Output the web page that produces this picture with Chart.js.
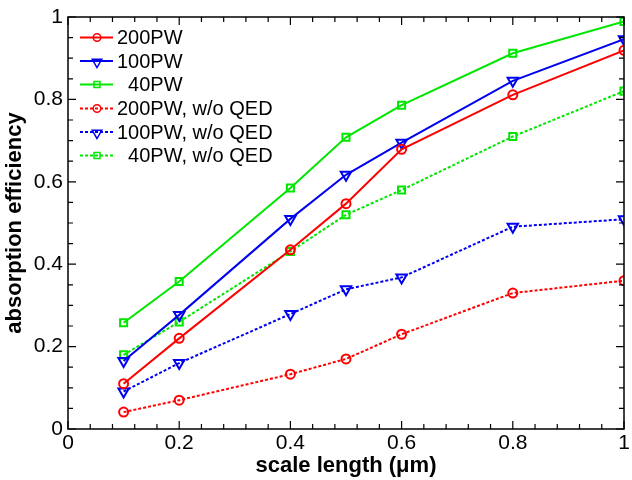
<!DOCTYPE html>
<html>
<head>
<meta charset="utf-8">
<script src="https://cdn.jsdelivr.net/npm/chart.js@4/dist/chart.umd.min.js"></script>
<style>
  html, body { margin: 0; padding: 0; background: #fff; }
  #wrap { width: 632px; height: 480px; }
</style>
</head>
<body>
<div id="wrap"><canvas id="absChart" width="632" height="480"></canvas></div>
<script>
// scale length (um)
let scaleLength = [0.1, 0.2, 0.4, 0.5, 0.6, 0.8, 1.0]

let pw200 = [0.11, 0.22, 0.435, 0.547, 0.679, 0.811, 0.919]
let pw100 = [0.165, 0.277, 0.51, 0.617, 0.695, 0.845, 0.946]
let pw40 = [0.258, 0.358, 0.585, 0.708, 0.786, 0.912, 0.989]
let pw200NoQed = [0.041, 0.07, 0.133, 0.17, 0.23, 0.33, 0.36]
let pw100NoQed = [0.091, 0.16, 0.279, 0.339, 0.368, 0.491, 0.509]
let pw40NoQed = [0.18, 0.26, 0.431, 0.52, 0.58, 0.71, 0.82]

let seriesNames = ['200PW', '100PW', '  40PW', '200PW, w/o QED', '100PW, w/o QED', '  40PW, w/o QED']

let red = '#ff0000', blue = '#0000f0', green = '#00e600'
let font = "'Liberation Sans', Arial, sans-serif"

function pts(vals) {
  return scaleLength.map((x, i) => ({ x: x, y: vals[i] }))
}

function series(name, vals, color, style, dashed) {
  let r = style === 'circle' ? 4.5 : (style === 'rect' ? 5 : 6)
  return {
    label: name,
    data: pts(vals),
    borderColor: color,
    borderWidth: 2,
    borderDash: dashed ? [3, 2] : [],
    pointStyle: style,
    pointRotation: style === 'triangle' ? 180 : 0,
    pointRadius: r,
    pointHoverRadius: r,
    pointBorderWidth: 2,
    pointBorderColor: color,
    pointBackgroundColor: 'rgba(0,0,0,0)',
    fill: false,
    tension: 0
  }
}

let tickText = v => String(+v.toFixed(2))

// frame + inward ticks on all four sides, plus the legend
let framePlugin = {
  id: 'frame',
  afterDraw(chart) {
    let ctx = chart.ctx
    let a = chart.chartArea
    let xs = chart.scales.x, ys = chart.scales.y
    ctx.save()
    ctx.strokeStyle = '#000'
    ctx.lineWidth = 1.5
    ctx.setLineDash([])
    ctx.strokeRect(a.left, a.top, a.right - a.left, a.bottom - a.top)
    ctx.lineWidth = 1.2
    ctx.beginPath()
    for (let i = 0; i <= 25; i++) {
      let v = i * 0.04
      let px = xs.getPixelForValue(v)
      let len = (i % 5 === 0) ? 8 : 5
      ctx.moveTo(px, a.bottom); ctx.lineTo(px, a.bottom - len)
      ctx.moveTo(px, a.top); ctx.lineTo(px, a.top + len)
    }
    for (let i = 0; i <= 20; i++) {
      let v = i * 0.05
      let py = ys.getPixelForValue(v)
      let len = (i % 4 === 0) ? 8 : 5
      ctx.moveTo(a.left, py); ctx.lineTo(a.left + len, py)
      ctx.moveTo(a.right, py); ctx.lineTo(a.right - len, py)
    }
    ctx.stroke()

    // legend
    let rowY = [37.5, 61, 84.5, 108.5, 132, 155.5]
    chart.data.datasets.forEach((ds, i) => {
      let y = rowY[i]
      ctx.strokeStyle = ds.borderColor
      ctx.lineWidth = 2
      ctx.setLineDash(ds.borderDash)
      ctx.beginPath()
      ctx.moveTo(80, y); ctx.lineTo(113, y)
      ctx.stroke()
      ctx.setLineDash([])
      let r = ds.pointStyle === 'circle' ? 3.8 : (ds.pointStyle === 'rect' ? 4.2 : 5.5)
      ctx.fillStyle = 'rgba(0,0,0,0)'
      ctx.lineWidth = 1.5
      Chart.helpers.drawPoint(ctx, {
        pointStyle: ds.pointStyle,
        rotation: ds.pointRotation,
        radius: r,
        borderWidth: 1.5
      }, 97, ds.pointStyle === 'triangle' ? y + 1 : y)
      ctx.fillStyle = '#000'
      ctx.font = '20px ' + font
      ctx.textBaseline = 'middle'
      ctx.textAlign = 'left'
      ctx.fillText(ds.label, 117, y + 1)
    })
    ctx.restore()
  }
}

let absChart = document.getElementById('absChart').getContext('2d')
let chart = new Chart(absChart, {
  type: 'line',
  data: {
    datasets: [
      series(seriesNames[0], pw200, red, 'circle', false),
      series(seriesNames[1], pw100, blue, 'triangle', false),
      series(seriesNames[2], pw40, green, 'rect', false),
      series(seriesNames[3], pw200NoQed, red, 'circle', true),
      series(seriesNames[4], pw100NoQed, blue, 'triangle', true),
      series(seriesNames[5], pw40NoQed, green, 'rect', true)
    ]
  },
  options: {
    responsive: false,
    animation: false,
    layout: { padding: { top: 17, right: 5, left: 0, bottom: 0 } },
    plugins: { legend: { display: false }, tooltip: { enabled: false } },
    scales: {
      x: {
        type: 'linear',
        min: 0, max: 1,
        grid: { display: false, drawTicks: false },
        border: { display: false },
        ticks: { stepSize: 0.2, padding: 2, color: '#000', callback: tickText,
          font: { family: font, size: 21 } },
        title: { display: true, text: 'scale length (\u03bcm)', color: '#000', padding: { top: 0, bottom: 1 },
          font: { family: font, size: 22, weight: 'bold' } },
        afterFit(s) { s.height = 51; s.paddingLeft = 0; s.paddingRight = 0 }
      },
      y: {
        min: 0, max: 1,
        grid: { display: false, drawTicks: false },
        border: { display: false },
        ticks: { stepSize: 0.2, padding: 5, color: '#000', callback: tickText,
          font: { family: font, size: 21 } },
        title: { display: true, text: 'absorption efficiency', color: '#000', padding: { top: 2, bottom: 0 },
          font: { family: font, size: 22, weight: 'bold' } },
        afterFit(s) { s.width = 68; s.paddingTop = 0; s.paddingBottom = 0 }
      }
    }
  },
  plugins: [framePlugin]
})
</script>
</body>
</html>
